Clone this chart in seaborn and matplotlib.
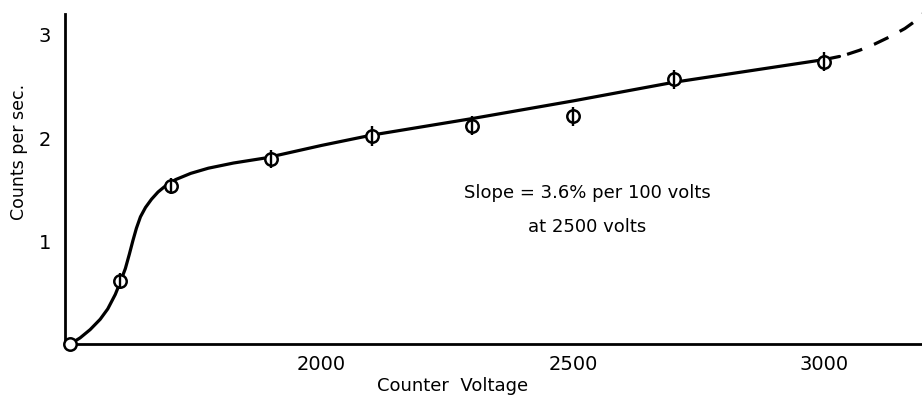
import matplotlib
matplotlib.use("Agg")
import matplotlib.pyplot as plt
import seaborn as sns
import pandas as pd

# measured points
voltage = [1500, 1600, 1700, 1900, 2100, 2300, 2500, 2700, 3000]
counts = [0.0, 0.61, 1.53, 1.79, 2.01, 2.11, 2.20, 2.56, 2.73]
count_err = [0.0, 0.08, 0.08, 0.09, 0.10, 0.09, 0.09, 0.09, 0.09]

# hand-drawn smooth curve
curve_v = [1500, 1520, 1540, 1560, 1575, 1590, 1600, 1610, 1618, 1625, 1632,
           1640, 1650, 1662, 1675, 1690, 1710, 1740, 1775, 1825, 1890, 1945,
           2000, 2100, 2300, 2500, 2700, 3000, 3030]
curve_c = [0.0, 0.06, 0.14, 0.24, 0.34, 0.48, 0.60, 0.73, 0.87, 1.00, 1.12,
           1.23, 1.32, 1.40, 1.47, 1.53, 1.59, 1.65, 1.70, 1.75, 1.80, 1.86,
           1.92, 2.02, 2.18, 2.35, 2.53, 2.75, 2.78]
# dashed extrapolation
dash_v = [3045, 3070, 3100, 3130, 3160, 3180, 3200]
dash_c = [2.80, 2.84, 2.90, 2.97, 3.05, 3.12, 3.21]

x_ticks = list(range(1600, 3100, 100))
x_labels = {2000: "2000", 2500: "2500", 3000: "3000"}
y_ticks = [1, 2, 3]
y_labels = ["1", "2", "3"]

sns.set_style("white")
plt.rcParams["font.family"] = ["DejaVu Sans"]
plt.rcParams["text.color"] = "black"

fig = plt.figure(figsize=(9.22, 4.06), dpi=100)
ax = fig.add_axes([0.0705, 0.150, 0.9295, 0.813])

curve_df = pd.DataFrame({"v": curve_v, "c": curve_c})
dash_df = pd.DataFrame({"v": dash_v, "c": dash_c})
pts_df = pd.DataFrame({"v": voltage, "c": counts, "e": count_err})

sns.lineplot(data=curve_df, x="v", y="c", sort=False, color="black",
             linewidth=2.3, ax=ax, clip_on=False)
sns.lineplot(data=dash_df, x="v", y="c", sort=False, color="black",
             linewidth=2.3, ax=ax, clip_on=False)
ax.lines[-1].set_dashes([5, 4])

bars = pts_df[pts_df["e"] > 0]
sns.scatterplot(data=pts_df, x="v", y="c", marker="o", s=80,
                facecolor="white", edgecolor="black", linewidth=1.8,
                ax=ax, zorder=5, clip_on=False)
ax.errorbar(bars["v"], bars["c"], yerr=bars["e"], fmt="none", ecolor="black",
            elinewidth=1.7, capsize=0, clip_on=False, zorder=6)

ax.set_xlim(1490, 3194)
ax.set_ylim(0, 3.19)

ax.set_xticks(x_ticks)
ax.set_xticklabels([x_labels.get(t, "") for t in x_ticks])
ax.set_yticks(y_ticks)
ax.set_yticklabels(y_labels)
ax.tick_params(axis="x", direction="in", length=5, width=1.4, labelsize=14,
               pad=7, colors="black")
ax.tick_params(axis="y", direction="in", length=6, width=1.4, labelsize=14,
               pad=10, colors="black")

for side in ["top", "right"]:
    ax.spines[side].set_visible(False)
for side in ["left", "bottom"]:
    ax.spines[side].set_color("black")
    ax.spines[side].set_linewidth(2.0)

ax.set_xlabel("")
ax.set_ylabel("")
fig.text(453 / 922, 1 - 386 / 406, "Counter  Voltage", ha="center", va="center",
         fontsize=13, color="black")
fig.text(19 / 922, 1 - 152 / 406, "Counts per sec.", ha="center", va="center",
         rotation=90, fontsize=12.5, color="black")

ax.text(2528, 1.47, "Slope = 3.6% per 100 volts", ha="center", va="center",
        fontsize=13, color="black")
ax.text(2528, 1.14, "at 2500 volts", ha="center", va="center", fontsize=13,
        color="black")

fig.savefig("out.png", dpi=100)
